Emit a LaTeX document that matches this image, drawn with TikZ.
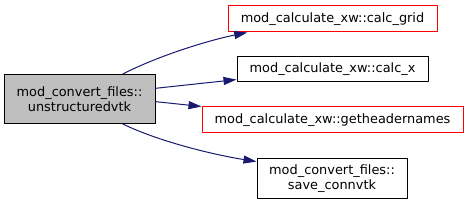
\documentclass[tikz,border=0pt]{standalone}
\usepackage{fontspec}
\setmainfont{DejaVu Sans}
\usetikzlibrary{arrows.meta}
\definecolor{edgeblue}{HTML}{191970}
\definecolor{mainfill}{HTML}{BFBFBF}
\begin{document}
\begin{tikzpicture}[x=1pt, y=-1pt, line join=round,
		font=\fontsize{12.9}{15}\selectfont,
		fn/.style={draw=black, line width=1pt, inner sep=0pt, align=center},
		fnred/.style={fn, draw=red},
		call/.style={draw=edgeblue, line width=1pt, -{Triangle[length=13pt, width=8pt]}}]
			\useasboundingbox (0,0) rectangle (468,205);
			
			%
			\node[fn, fill=mainfill, minimum width=151pt, minimum height=49pt] (conv) at (79.5, 99) {mod\_convert\_files::\\unstructuredvtk};
			
			\node[fnred, minimum width=209pt, minimum height=26pt] (grid) at (332.5, 19) {mod\_calculate\_xw::calc\_grid};
			\node[fn, minimum width=191pt, minimum height=25pt] (calcx) at (332.5, 69.5) {mod\_calculate\_xw::calc\_x};
			\node[fnred, minimum width=261pt, minimum height=26pt] (header) at (332.5, 120) {mod\_calculate\_xw::getheadernames};
			\node[fn, minimum width=150pt, minimum height=40pt] (save) at (332, 179) {mod\_convert\_files::\\save\_connvtk};
			
			\draw[call] (conv.30) .. controls (160, 55) and (210, 40) .. (grid.189);
			\draw[call] (conv.8) -- (calcx.186);
			\draw[call] (conv.-2) -- (header.north west);
			\draw[call] (conv.-30) .. controls (160, 142) and (215, 155) .. (save.167);
	\end{tikzpicture}
\end{document}
